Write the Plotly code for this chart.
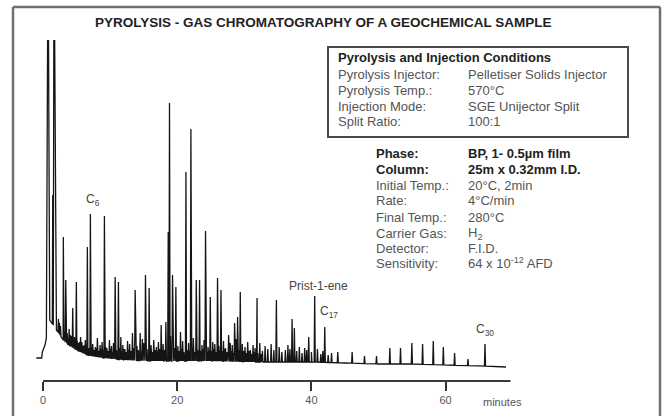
import numpy as np
import plotly.graph_objects as go

# ---------------- data ----------------
# baseline of the detector signal: retention time (min) and level (arb. units)
base_time = [-1.0, -0.2, -0.1, 0.3, 1.0, 2.0, 3.0, 4.0, 5.5, 7.0, 9.0, 12.0, 16.0,
             20.0, 25.0, 30.0, 35.0, 40.0, 45.0, 50.0, 55.0, 60.0, 65.0, 69.0]
base_level = [23, 23, 29, 36, 61, 51, 41, 35, 29, 25, 23, 21, 20,
              20, 20, 19, 19, 19, 18, 17, 17, 16, 15, 14]

# main peaks: retention time (min) and apex level
peak_time = [0.75, 1.45, 1.64, 3.03, 3.39, 4.43, 4.97, 5.78, 6.61, 7.06, 9.15, 10.75,
             11.24, 13.33, 13.73, 14.48, 15.27, 15.82, 17.61, 18.31, 18.66, 18.85,
             19.30, 19.80, 20.49, 21.30, 22.04, 22.84, 23.33, 24.22, 24.93, 26.01,
             26.52, 27.66, 28.55, 29.00, 29.40, 31.90, 34.78, 36.12, 37.12, 37.46,
             39.60, 40.49, 41.99, 43.93, 46.07, 47.91, 49.70, 51.69, 53.28, 54.97,
             56.57, 58.16, 59.66, 61.34, 63.33, 65.87]
peak_level = [450, 186, 450, 144, 101, 73, 99, 39, 134, 167, 165, 104,
              99, 48, 91, 48, 106, 93, 56, 59, 149, 278,
              106, 94, 49, 209, 252, 101, 101, 150, 84, 103,
              91, 46, 58, 64, 89, 83, 81, 31, 62, 53,
              44, 85, 54, 29, 29, 25, 25, 33, 33, 38,
              37, 40, 34, 28, 22, 37]

# small unresolved peaks ("grass")
grass_time = [2.3, 2.6, 3.6, 3.9, 4.2, 4.7, 5.3, 5.6, 6.0, 6.3, 7.4, 7.8, 8.1, 8.5, 8.8,
              9.5, 9.9, 10.2, 10.5, 11.6, 11.9, 12.2, 12.6, 12.9, 14.0, 14.8, 15.0, 16.1,
              16.5, 16.9, 17.2, 17.9, 19.0, 20.1, 20.8, 21.7, 22.4, 23.7, 24.0, 24.6,
              25.3, 25.6, 26.2, 26.9, 27.2, 27.9, 28.2, 28.8, 29.7, 30.1, 30.5, 30.9,
              31.3, 31.6, 32.3, 32.7, 33.1, 33.5, 34.0, 34.4, 35.2, 35.6, 36.5, 36.8,
              37.8, 38.2, 38.6, 39.0, 39.3, 40.0, 40.9, 41.4, 41.7, 42.5, 43.0,
              2.45, 3.2, 4.05, 4.55, 5.1, 5.45, 6.15, 6.85, 7.25, 7.6, 7.95, 8.3, 8.65,
              9.0, 9.35, 9.7, 10.05, 10.35, 10.95, 11.45, 11.75, 12.05, 12.4, 12.75,
              13.1, 13.5, 13.9, 14.2, 14.65, 15.5, 16.3, 16.7, 17.05, 17.4, 17.75,
              18.1, 19.55, 20.3, 20.65, 21.0, 21.5, 21.85, 22.25, 22.6, 23.05, 23.5,
              23.85, 24.45, 24.75, 25.1, 25.45, 25.8, 26.35, 26.7, 27.05, 27.4,
              28.05, 28.4, 29.2, 29.55, 29.9, 30.3, 30.7, 31.1, 31.45, 32.0, 32.5]
grass_level = [62, 55, 48, 52, 45, 44, 38, 44, 35, 41, 37, 34, 43, 36, 39,
               33, 41, 35, 38, 44, 36, 32, 40, 37, 35, 42, 38, 36,
               41, 34, 39, 37, 45, 35, 40, 38, 43, 36, 41, 34,
               39, 37, 35, 40, 33, 38, 36, 42, 37, 34, 39, 31,
               36, 33, 38, 30, 35, 32, 37, 31, 34, 29, 36, 32,
               30, 34, 28, 33, 31, 29, 32, 27, 30, 26, 28,
               58, 50, 46, 42, 40, 39, 36, 33, 34, 31, 33, 30, 32,
               31, 34, 30, 32, 29, 31, 33, 30, 32, 29, 31,
               30, 33, 29, 31, 30, 32, 29, 31, 30, 32, 29,
               31, 33, 30, 32, 29, 31, 30, 33, 29, 31, 30,
               32, 29, 31, 30, 32, 29, 31, 30, 32, 29,
               30, 28, 31, 29, 30, 28, 30, 27, 29, 28, 27]

tick_values = [0, 20, 40, 60]
tick_labels = ["0", "20", "40", "60"]

title_text = "PYROLYSIS - GAS CHROMATOGRAPHY OF A GEOCHEMICAL SAMPLE"
box_header = "Pyrolysis and Injection Conditions"
box_labels = ["Pyrolysis Injector:", "Pyrolysis Temp.:", "Injection Mode:", "Split Ratio:"]
box_values = ["Pelletiser Solids Injector", "570°C", "SGE Unijector Split", "100:1"]
cond_labels = ["Phase:", "Column:", "Initial Temp.:", "Rate:", "Final Temp.:",
               "Carrier Gas:", "Detector:", "Sensitivity:"]
cond_values = ["BP, 1- 0.5µm film", "25m x 0.32mm I.D.", "20°C, 2min", "4°C/min",
               "280°C", "H<sub>2</sub>", "F.I.D.", "64 x 10<sup>-12</sup> AFD"]
cond_bold = [True, True, False, False, False, False, False, False]

peak_names = ["C<sub>6</sub>", "Prist-1-ene", "C<sub>17</sub>", "C<sub>30</sub>"]
peak_name_time = [7.46, 41.0, 42.6, 65.9]
peak_name_level = [181, 95, 69, 51]

# ---------------- build the chromatogram line ----------------
pts = []
for t, lv in zip(base_time, base_level):
    pts.append((t, lv))
for t, h in zip(peak_time + grass_time, peak_level + grass_level):
    w = 0.25 if h > 300 else 0.08
    for tt, val in ((t - w, None), (t, h), (t + w, None)):
        if val is None:
            val = float(np.interp(tt, base_time, base_level))
        pts.append((tt, val))
pts.sort(key=lambda p: p[0])
xs = [p[0] for p in pts]
ys = [p[1] for p in pts]

# ---------------- figure (paper == whole 665x416 canvas) ----------------
FW, FH = 665, 416
PL, PR, PT, PB = 36, 510.7, 40, 381   # plot area in pixels


def px2x(px):
    return px / FW


def py2y(py):
    return (FH - py) / FH


FONT = "Liberation Sans, Arial, Helvetica, sans-serif"

fig = go.Figure()
fig.add_trace(go.Scatter(x=xs, y=ys, mode="lines",
                         line=dict(color="#151515", width=1.3),
                         hoverinfo="skip", showlegend=False))

frame = dict(color="#707070", width=2.5)
shapes = [
    # outer frame: left, top, right edges
    dict(type="line", xref="paper", yref="paper", layer="above",
         x0=px2x(13), x1=px2x(13), y0=0.0, y1=py2y(7), line=frame),
    dict(type="line", xref="paper", yref="paper", layer="above",
         x0=px2x(13), x1=px2x(660), y0=py2y(7), y1=py2y(7), line=frame),
    dict(type="line", xref="paper", yref="paper", layer="above",
         x0=px2x(660), x1=px2x(660), y0=0.0, y1=py2y(7), line=frame),
    # conditions box
    dict(type="rect", xref="paper", yref="paper",
         x0=px2x(328), x1=px2x(628), y0=py2y(137), y1=py2y(47),
         line=dict(color="#4a4a4a", width=2)),
    # time axis line
    dict(type="line", xref="x", yref="paper", x0=0, x1=69.7,
         y0=py2y(PB), y1=py2y(PB), line=dict(color="#3a3a3a", width=2)),
]

ann = []
ann.append(dict(text="<b>" + title_text + "</b>", xref="paper", yref="paper",
                x=px2x(323), y=py2y(22), showarrow=False, xanchor="center",
                yanchor="middle", font=dict(size=13.5, color="#222", family=FONT)))
ann.append(dict(text="<b>" + box_header + "</b>", xref="paper", yref="paper",
                x=px2x(336), y=py2y(58), showarrow=False, xanchor="left",
                yanchor="middle", font=dict(size=13, color="#222", family=FONT)))
box_rows_y = [74, 90, 106, 122]
for lab, val, yy in zip(box_labels, box_values, box_rows_y):
    ann.append(dict(text=lab, xref="paper", yref="paper", x=px2x(336), y=py2y(yy),
                    showarrow=False, xanchor="left", yanchor="middle",
                    font=dict(size=13, color="#555", family=FONT)))
    ann.append(dict(text=val, xref="paper", yref="paper", x=px2x(466), y=py2y(yy),
                    showarrow=False, xanchor="left", yanchor="middle",
                    font=dict(size=13, color="#555", family=FONT)))
cond_rows_y = [153, 169, 185, 201, 217, 233, 248, 263]
for lab, val, yy, bold in zip(cond_labels, cond_values, cond_rows_y, cond_bold):
    col = "#222" if bold else "#555"
    ltxt = "<b>" + lab + "</b>" if bold else lab
    vtxt = "<b>" + val + "</b>" if bold else val
    ann.append(dict(text=ltxt, xref="paper", yref="paper", x=px2x(374), y=py2y(yy),
                    showarrow=False, xanchor="left", yanchor="middle",
                    font=dict(size=13, color=col, family=FONT)))
    ann.append(dict(text=vtxt, xref="paper", yref="paper", x=px2x(466), y=py2y(yy),
                    showarrow=False, xanchor="left", yanchor="middle",
                    font=dict(size=13, color=col, family=FONT)))
for name, t, lv in zip(peak_names, peak_name_time, peak_name_level):
    ann.append(dict(text=name, x=t, y=lv, xref="x", yref="y", showarrow=False,
                    xanchor="center", yanchor="middle",
                    font=dict(size=12, color="#444", family=FONT)))
ann.append(dict(text="minutes", xref="paper", yref="paper", x=px2x(502), y=py2y(402),
                showarrow=False, xanchor="center", yanchor="middle",
                font=dict(size=11, color="#555", family=FONT)))

fig.update_layout(
    width=FW, height=FH,
    margin=dict(l=0, r=0, t=0, b=0, pad=0),
    paper_bgcolor="white", plot_bgcolor="white",
    shapes=shapes, annotations=ann,
    xaxis=dict(domain=[px2x(PL), px2x(PR)], range=[-1.045, 69.7],
               showgrid=False, zeroline=False, showline=False,
               tickvals=tick_values, ticktext=tick_labels, ticks="outside",
               ticklen=9, tickwidth=1.5, tickcolor="#333",
               tickfont=dict(size=11, color="#555", family=FONT)),
    yaxis=dict(domain=[py2y(PB), py2y(PT)], range=[0, PB - PT], visible=False),
    showlegend=False,
)

fig.write_html("out.html", config={"displayModeBar": False},
               post_script="document.body.style.margin='0px';"
                           "document.body.style.overflow='hidden';")
